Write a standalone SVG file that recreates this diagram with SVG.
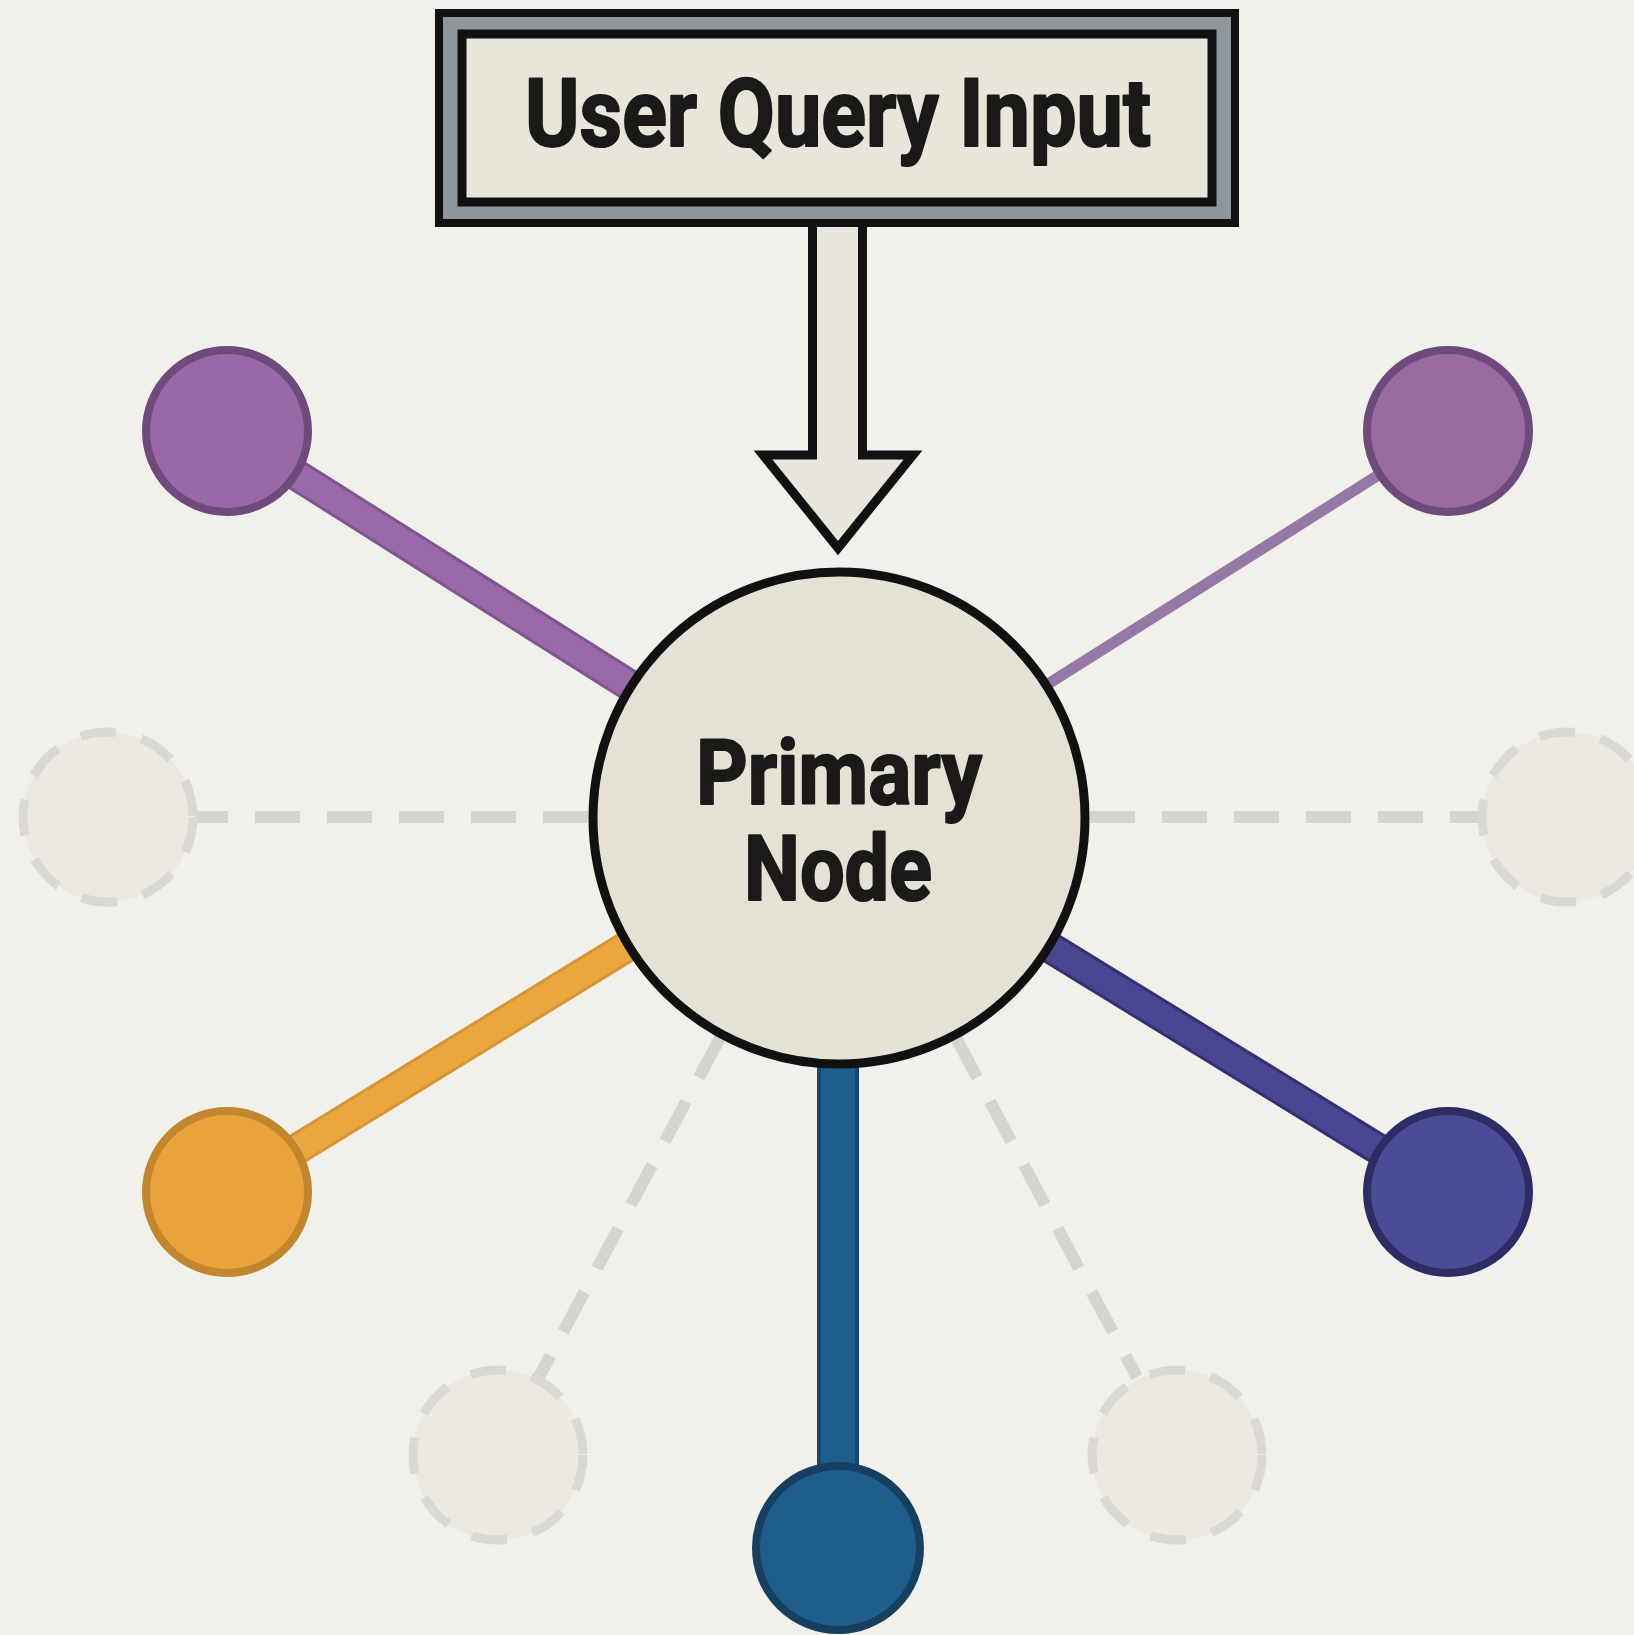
<svg xmlns="http://www.w3.org/2000/svg" width="1634" height="1635" viewBox="0 0 1634 1635">
<style>
.lbl{font-family:"Roboto","Liberation Sans",sans-serif;font-weight:700;fill:#1b1a18;stroke:#1b1a18;stroke-width:2.2;stroke-linejoin:round;text-anchor:middle}
.dash{stroke:#d5d4cf;stroke-width:12;stroke-dasharray:45 27;fill:none}
.ghost{fill:#ebe9e2;stroke:#d9d8d3;stroke-width:9;stroke-dasharray:36 26}
</style>
<rect x="0" y="0" width="1634" height="1635" fill="#f1f0eb"/>
<g id="connectors">
  <line class="dash" x1="588" y1="817" x2="195" y2="817"/>
  <line class="dash" x1="1090" y1="817" x2="1480" y2="817"/>
  <line class="dash" x1="720" y1="1038" x2="539" y2="1377"/>
  <line class="dash" x1="956" y1="1038" x2="1137" y2="1377"/>
  <line x1="838" y1="817" x2="227" y2="431" stroke="#7d5690" stroke-width="32"/>
  <line x1="838" y1="817" x2="227" y2="431" stroke="#9b69a8" stroke-width="26"/>
  <line x1="838" y1="817" x2="1448" y2="431" stroke="#9578a3" stroke-width="11"/>
  <line x1="838" y1="817" x2="227" y2="1192" stroke="#d79535" stroke-width="32"/>
  <line x1="838" y1="817" x2="227" y2="1192" stroke="#eaa63f" stroke-width="26"/>
  <line x1="838" y1="817" x2="1448" y2="1192" stroke="#33316f" stroke-width="32"/>
  <line x1="838" y1="817" x2="1448" y2="1192" stroke="#4a4792" stroke-width="26"/>
  <line x1="838" y1="817" x2="838" y2="1548" stroke="#17486c" stroke-width="42"/>
  <line x1="838" y1="817" x2="838" y2="1548" stroke="#1f5e8c" stroke-width="34"/>
  <path id="input-arrow" d="M812.5,222 V455 H763 L838,548 L913,455 H862.5 V222" fill="#e8e6dc" stroke="#111" stroke-width="9" stroke-linejoin="miter"/>
</g>
<g id="user-query-input">
  <rect x="439" y="13" width="796" height="210" fill="#8f969b" stroke="#111" stroke-width="8"/>
  <rect x="462" y="34" width="750" height="168" fill="#e8e6db" stroke="#111" stroke-width="9"/>
  <text class="lbl" x="838" y="146" font-size="94" textLength="626" lengthAdjust="spacingAndGlyphs">User Query Input</text>
</g>
<g id="node-left-ghost"><circle class="ghost" cx="108" cy="817" r="85"/></g>
<g id="node-right-ghost"><circle class="ghost" cx="1567" cy="817" r="85"/></g>
<g id="node-bottom-left-ghost"><circle class="ghost" cx="498" cy="1455" r="85"/></g>
<g id="node-bottom-right-ghost"><circle class="ghost" cx="1177" cy="1455" r="85"/></g>
<g id="node-top-left"><circle cx="227" cy="431" r="81" fill="#9a68a6" stroke="#6f4b7d" stroke-width="8"/></g>
<g id="node-top-right"><circle cx="1448" cy="431" r="81" fill="#9a6aa3" stroke="#6f4b7d" stroke-width="8"/></g>
<g id="node-bottom-left"><circle cx="227" cy="1192" r="81" fill="#e9a23c" stroke="#c2862e" stroke-width="8"/></g>
<g id="node-bottom-right"><circle cx="1448" cy="1192" r="81" fill="#4b4b96" stroke="#2d2d66" stroke-width="8"/></g>
<g id="node-bottom"><circle cx="838" cy="1548" r="82" fill="#1f5e8c" stroke="#163f60" stroke-width="8"/></g>
<g id="primary-node">
  <circle cx="839" cy="818" r="246" fill="#e5e2d5" stroke="#111" stroke-width="9"/>
  <text class="lbl" x="839" y="804" font-size="91" textLength="286" lengthAdjust="spacingAndGlyphs">Primary</text>
  <text class="lbl" x="838" y="900" font-size="91" textLength="188" lengthAdjust="spacingAndGlyphs">Node</text>
</g>
</svg>
